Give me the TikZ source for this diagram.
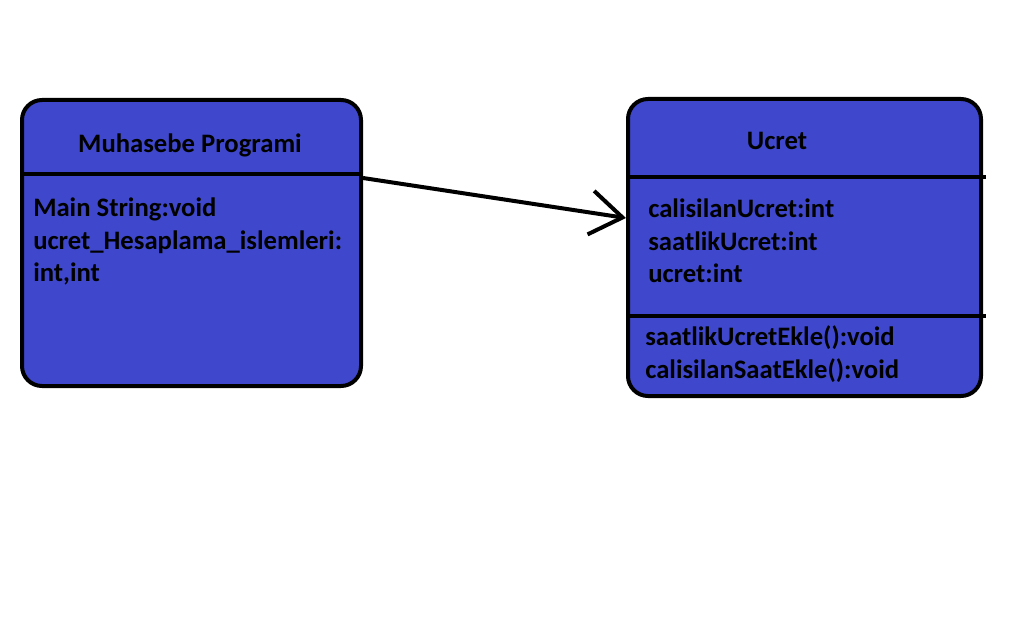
\documentclass[tikz,border=0pt]{standalone}
\usepackage{fontspec}
\setmainfont{Carlito}
\usetikzlibrary{arrows.meta, positioning, calc}
\definecolor{classfill}{HTML}{3F48CC}
\tikzset{every node/.style={font=\bfseries\fontsize{20}{24}\selectfont}}

\begin{document}
\begin{tikzpicture}[x=0.75pt, y=-0.75pt,
    classbox/.style={draw, line width=3pt, fill=classfill, rounded corners=15pt, inner sep=0pt},
    divider/.style={line width=3pt},
    member/.style={anchor=base west, inner sep=0pt},
    title/.style={anchor=base, inner sep=0pt}]
  \useasboundingbox (0,0) rectangle (1032,642);
  % class boxes
  \node[classbox, minimum width=254.25pt, minimum height=214.5pt] (muh) at (191.5,243) {};
  \node[classbox, minimum width=264.75pt, minimum height=222.75pt] (ucr) at (804.5,247.5) {};
  % compartments
  \draw[divider] (muh.west |- 0,174) -- (muh.east |- 0,174);
  \draw[divider] (ucr.west |- 0,177) -- ($(ucr.east |- 0,177)+(3,0)$);
  \draw[divider] (ucr.west |- 0,316) -- ($(ucr.east |- 0,316)+(3,0)$);
  % Muhasebe Programi
  \node[title] (muhT) at (190,152) {Muhasebe Programi};
  \node[member] (m1) at (33,216) {Main String:void};
  \node[member] (m2) at (33,249) {ucret\_Hesaplama\_islemleri:};
  \node[member] (m3) at (33,281) {int,int};
  % Ucret
  \node[title] (ucrT) at (777,149) {Ucret};
  \node[member] (u1) at (648,217) {calisilanUcret:int};
  \node[member] (u2) at (648,250) {saatlikUcret:int};
  \node[member] (u3) at (648,282) {ucret:int};
  \node[member] (u4) at (645,345) {saatlikUcretEkle():void};
  \node[member] (u5) at (645,378) {calisilanSaatEkle():void};
  % association
  \coordinate (src) at (muh.east |- 0,178);
  \coordinate (dst) at (ucr.west |- 0,218);
  \draw[line width=3pt, -{Straight Barb[length=24pt, width=33pt, line width=3pt]}] (src) -- (dst);
\end{tikzpicture}
\end{document}
